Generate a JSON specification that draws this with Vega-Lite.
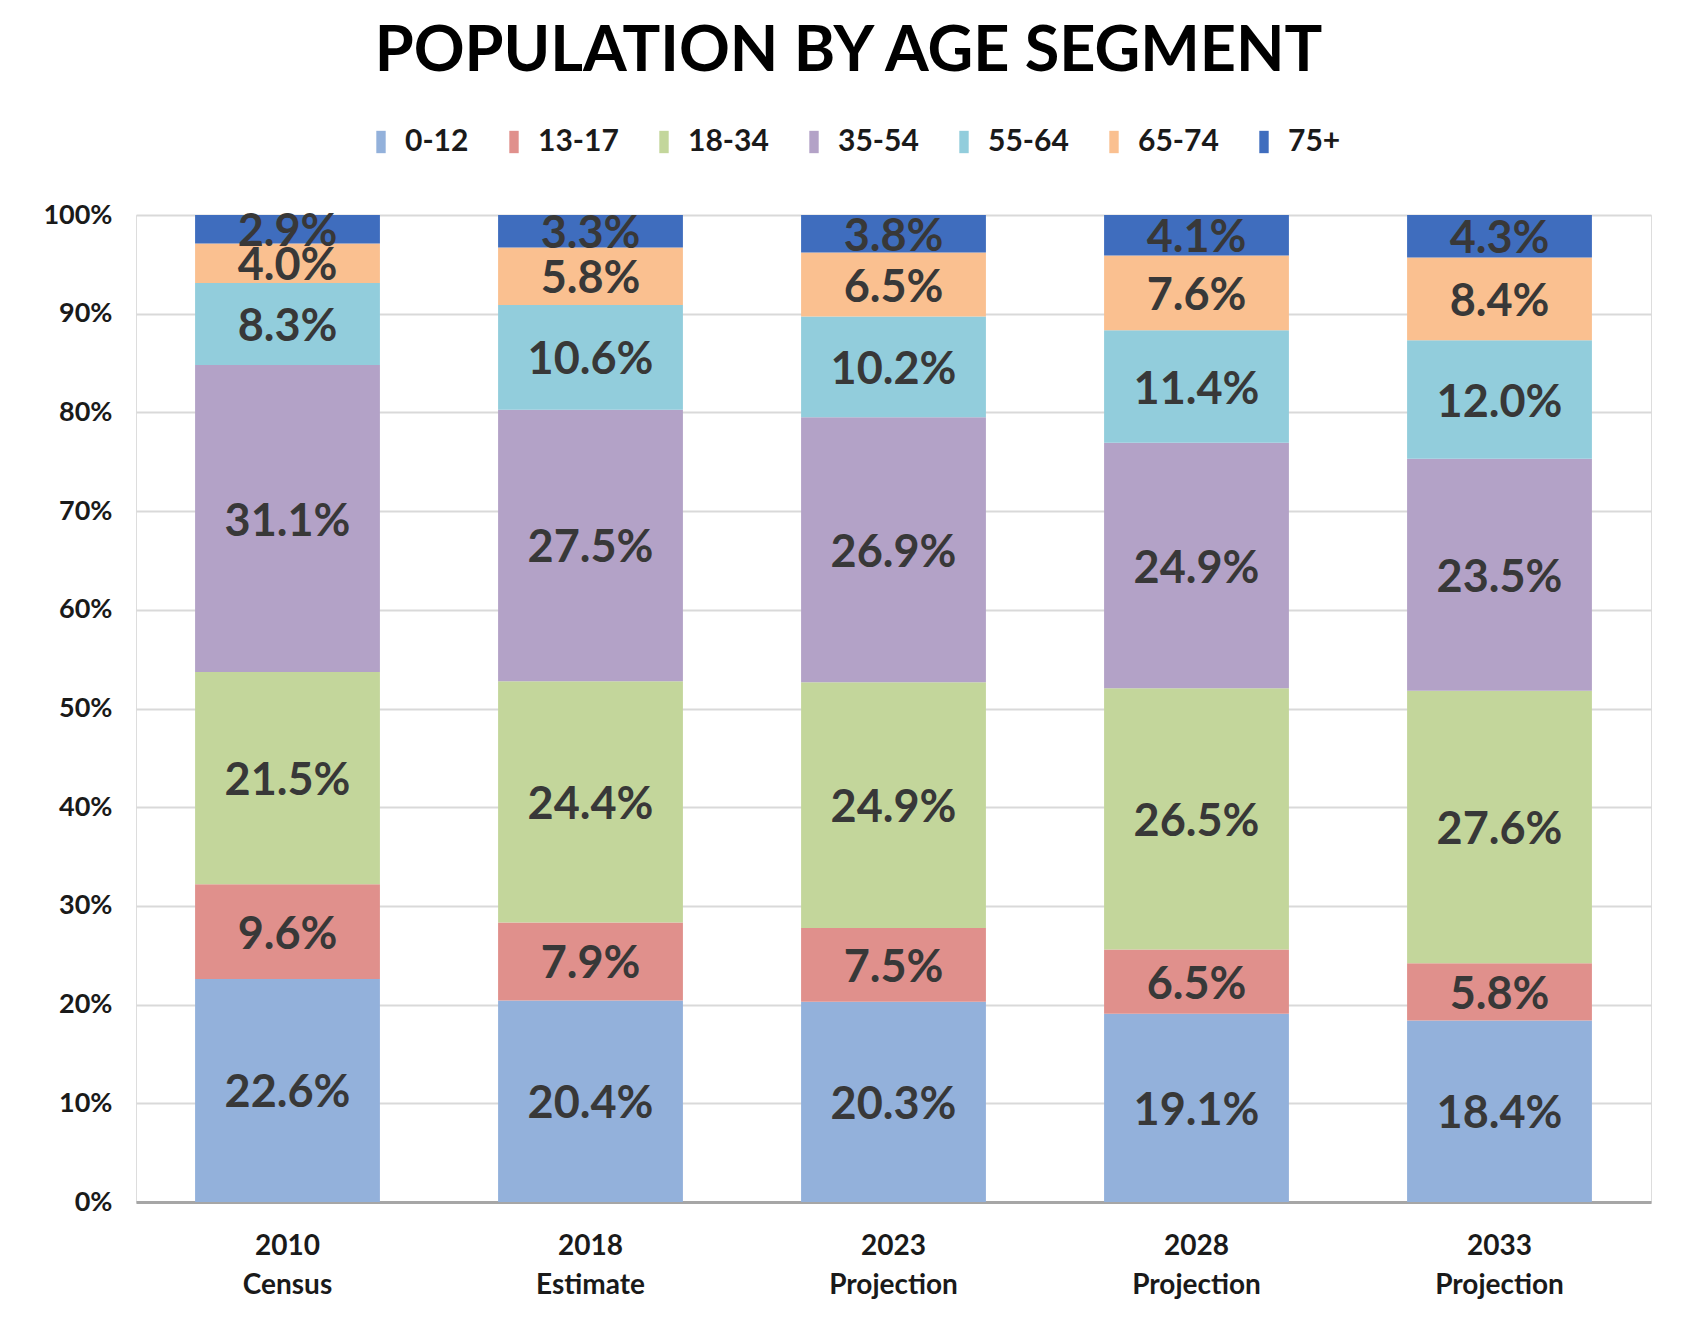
{
  "$schema": "https://vega.github.io/schema/vega-lite/v6.json",
  "width": 1515,
  "height": 987,
  "autosize": "none",
  "padding": {"left": 136, "top": 215, "right": 31, "bottom": 123},
  "background": "white",
  "title": {
    "text": "POPULATION BY AGE SEGMENT",
    "font": "Lato",
    "fontWeight": "bold",
    "fontSize": 63,
    "color": "#000000",
    "anchor": "middle",
    "dx": -45,
    "offset": 43
  },
  "data": {
    "values": [
      {"period": "2010|Census", "age": "0-12", "pct": 0.226},
      {"period": "2010|Census", "age": "13-17", "pct": 0.096},
      {"period": "2010|Census", "age": "18-34", "pct": 0.215},
      {"period": "2010|Census", "age": "35-54", "pct": 0.311},
      {"period": "2010|Census", "age": "55-64", "pct": 0.083},
      {"period": "2010|Census", "age": "65-74", "pct": 0.040},
      {"period": "2010|Census", "age": "75+", "pct": 0.029},
      {"period": "2018|Estimate", "age": "0-12", "pct": 0.204},
      {"period": "2018|Estimate", "age": "13-17", "pct": 0.079},
      {"period": "2018|Estimate", "age": "18-34", "pct": 0.244},
      {"period": "2018|Estimate", "age": "35-54", "pct": 0.275},
      {"period": "2018|Estimate", "age": "55-64", "pct": 0.106},
      {"period": "2018|Estimate", "age": "65-74", "pct": 0.058},
      {"period": "2018|Estimate", "age": "75+", "pct": 0.033},
      {"period": "2023|Projection", "age": "0-12", "pct": 0.203},
      {"period": "2023|Projection", "age": "13-17", "pct": 0.075},
      {"period": "2023|Projection", "age": "18-34", "pct": 0.249},
      {"period": "2023|Projection", "age": "35-54", "pct": 0.269},
      {"period": "2023|Projection", "age": "55-64", "pct": 0.102},
      {"period": "2023|Projection", "age": "65-74", "pct": 0.065},
      {"period": "2023|Projection", "age": "75+", "pct": 0.038},
      {"period": "2028|Projection", "age": "0-12", "pct": 0.191},
      {"period": "2028|Projection", "age": "13-17", "pct": 0.065},
      {"period": "2028|Projection", "age": "18-34", "pct": 0.265},
      {"period": "2028|Projection", "age": "35-54", "pct": 0.249},
      {"period": "2028|Projection", "age": "55-64", "pct": 0.114},
      {"period": "2028|Projection", "age": "65-74", "pct": 0.076},
      {"period": "2028|Projection", "age": "75+", "pct": 0.041},
      {"period": "2033|Projection", "age": "0-12", "pct": 0.184},
      {"period": "2033|Projection", "age": "13-17", "pct": 0.058},
      {"period": "2033|Projection", "age": "18-34", "pct": 0.276},
      {"period": "2033|Projection", "age": "35-54", "pct": 0.235},
      {"period": "2033|Projection", "age": "55-64", "pct": 0.120},
      {"period": "2033|Projection", "age": "65-74", "pct": 0.084},
      {"period": "2033|Projection", "age": "75+", "pct": 0.043}
    ]
  },
  "transform": [
    {"stack": "pct", "groupby": ["period"], "sort": [{"field": "age", "order": "ascending"}], "as": ["y0", "y1"], "offset": "normalize"},
    {"calculate": "(datum.y0 + datum.y1) / 2", "as": "ymid"}
  ],
  "encoding": {
    "x": {
      "field": "period",
      "type": "nominal",
      "sort": null,
      "scale": {"paddingInner": 0.39, "paddingOuter": 0.195},
      "axis": {
        "title": null,
        "labelAngle": 0,
        "labelExpr": "split(datum.label, '|')",
        "labelFont": "Lato",
        "labelFontWeight": "bold",
        "labelFontSize": 28,
        "labelLineHeight": 39,
        "labelColor": "#1a1a1a",
        "labelPadding": 30,
        "ticks": false,
        "domainColor": "#A6A6A6",
        "domainWidth": 3,
        "grid": false
      }
    }
  },
  "layer": [
    {
      "mark": {"type": "bar"},
      "encoding": {
        "y": {
          "field": "y0",
          "type": "quantitative",
          "scale": {"domain": [0, 1]},
          "axis": {
            "title": null,
            "format": "%",
            "values": [0, 0.1, 0.2, 0.3, 0.4, 0.5, 0.6, 0.7, 0.8, 0.9, 1.0],
            "labelFont": "Lato",
            "labelFontWeight": "bold",
            "labelFontSize": 27,
            "labelColor": "#1a1a1a",
            "labelPadding": 24,
            "ticks": false,
            "domain": false,
            "gridColor": "#D9D9D9",
            "gridWidth": 2
          }
        },
        "y2": {"field": "y1"},
        "color": {
          "field": "age",
          "type": "nominal",
          "scale": {
            "domain": ["0-12", "13-17", "18-34", "35-54", "55-64", "65-74", "75+"],
            "range": ["#93B1DB", "#E0908C", "#C3D69B", "#B3A2C7", "#92CDDC", "#FAC090", "#3F6DBE"]
          },
          "legend": {
            "title": null,
            "orient": "none",
            "direction": "horizontal",
            "legendX": 230,
            "legendY": -88,
            "symbolType": "M-0.42,-1H0.42V1H-0.42Z",
            "symbolSize": 500,
            "symbolStrokeWidth": 0,
            "labelFont": "Lato",
            "labelFontWeight": "bold",
            "labelFontSize": 30,
            "labelColor": "#1a1a1a",
            "labelOffset": 9,
            "columnPadding": 30,
            "encode": {
              "symbols": {
                "update": {
                  "fill": {"signal": "datum.value === '0-12' ? '#5B8BD0' : datum.value === '13-17' ? '#C9585A' : datum.value === '18-34' ? '#9BBB59' : datum.value === '35-54' ? '#8064A2' : datum.value === '55-64' ? '#4BACC6' : datum.value === '65-74' ? '#F79646' : '#2F5597'"},
                  "opacity": {"value": 1}
                }
              }
            }
          }
        }
      }
    },
    {
      "mark": {"type": "text", "font": "Lato", "fontWeight": "bold", "fontSize": 45, "color": "#383838", "baseline": "middle", "align": "center", "dy": 3},
      "encoding": {
        "y": {"field": "ymid", "type": "quantitative"},
        "text": {"field": "pct", "type": "quantitative", "format": ".1%"}
      }
    }
  ]
}
